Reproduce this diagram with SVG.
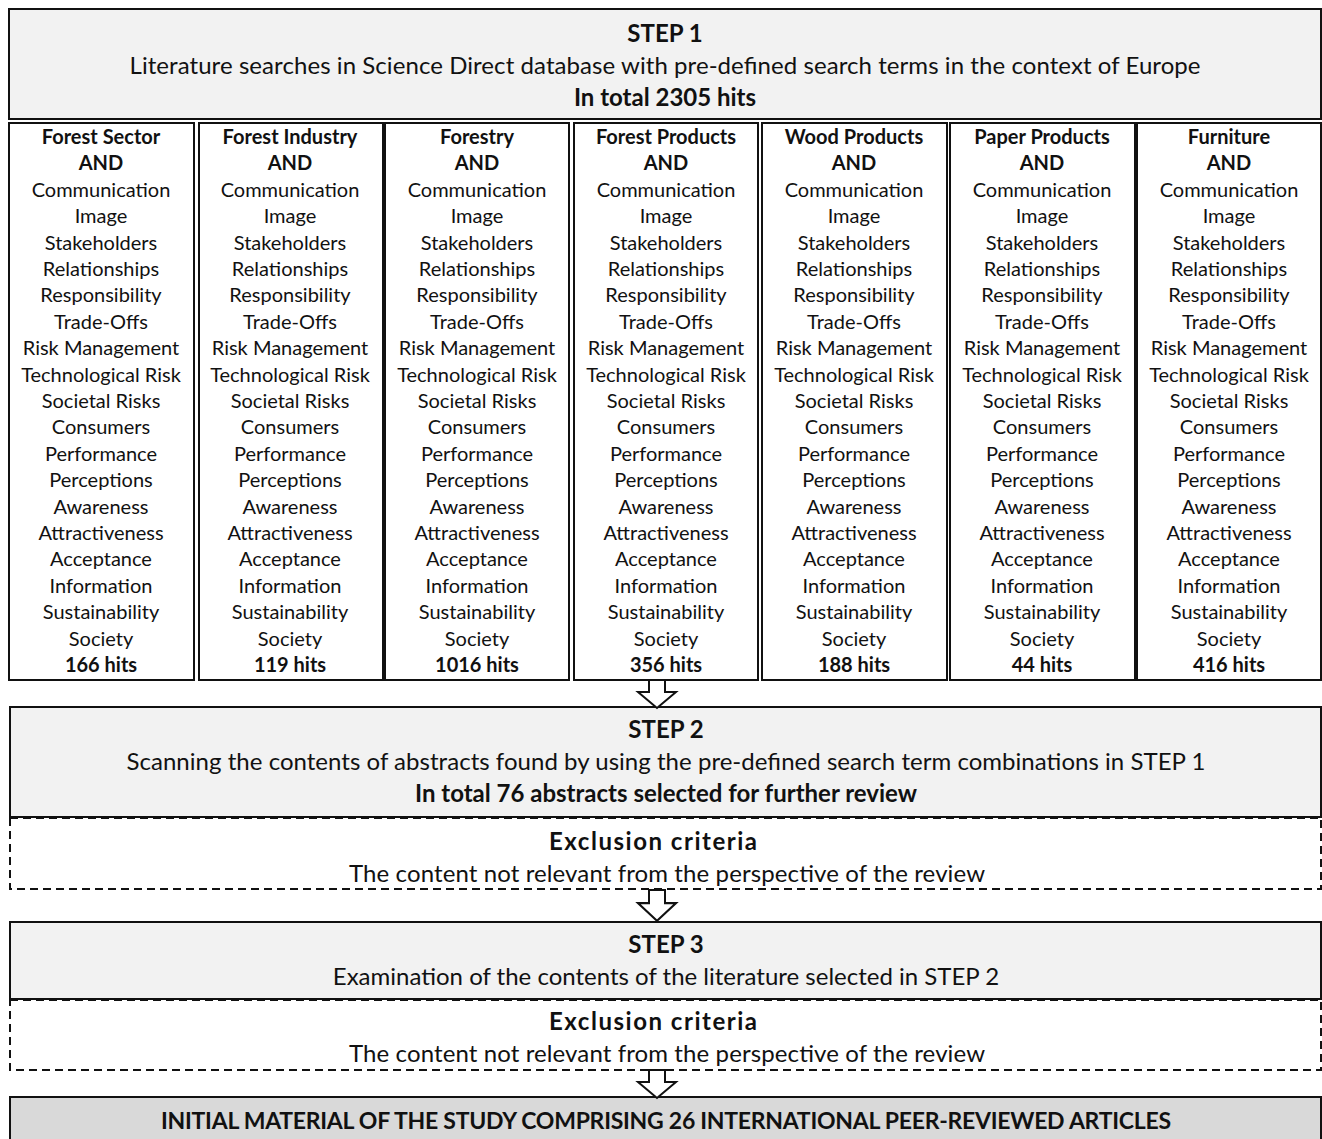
<svg xmlns="http://www.w3.org/2000/svg" width="1322" height="1139" viewBox="0 0 1322 1139">
<defs>
<style>
text{font-family:Lato,"Open Sans","Liberation Sans",sans-serif;fill:#111;text-anchor:middle}
.h{font-size:24px}
.b{font-weight:bold}
.c{font-size:20px}
.box{fill:#f2f2f2;stroke:#111;stroke-width:2}
.col{fill:#fff;stroke:#111;stroke-width:2}
.dash{fill:#fff;stroke:#111;stroke-width:2;stroke-dasharray:8 5}
.arr{fill:#fff;stroke:#111;stroke-width:2;stroke-linejoin:miter}
</style>
<path id="arrow" d="M-8,0 H8 V12 H19 L0,28 L-19,12 H-8 Z"/>
</defs>

<g id="step1">
<rect class="box" x="9" y="9" width="1312" height="110"/>
<text class="h b" x="665" y="42">STEP 1</text>
<text class="h" x="665" y="74" textLength="1071" lengthAdjust="spacing">Literature searches in Science Direct database with pre-defined search terms in the context of Europe</text>
<text class="h b" x="665" y="106">In total 2305 hits</text>
</g>

<g id="col1">
<rect class="col" x="9" y="123" width="185" height="557"/>
<text class="c" y="144"><tspan class="b" x="101">Forest Sector</tspan><tspan class="b" x="101" dy="26.4">AND</tspan><tspan x="101" dy="26.4">Communication</tspan><tspan x="101" dy="26.4">Image</tspan><tspan x="101" dy="26.4">Stakeholders</tspan><tspan x="101" dy="26.4">Relationships</tspan><tspan x="101" dy="26.4">Responsibility</tspan><tspan x="101" dy="26.4">Trade-Offs</tspan><tspan x="101" dy="26.4">Risk Management</tspan><tspan x="101" dy="26.4">Technological Risk</tspan><tspan x="101" dy="26.4">Societal Risks</tspan><tspan x="101" dy="26.4">Consumers</tspan><tspan x="101" dy="26.4">Performance</tspan><tspan x="101" dy="26.4">Perceptions</tspan><tspan x="101" dy="26.4">Awareness</tspan><tspan x="101" dy="26.4">Attractiveness</tspan><tspan x="101" dy="26.4">Acceptance</tspan><tspan x="101" dy="26.4">Information</tspan><tspan x="101" dy="26.4">Sustainability</tspan><tspan x="101" dy="26.4">Society</tspan><tspan class="b" x="101" dy="26.4">166 hits</tspan></text>
</g>

<g id="col2">
<rect class="col" x="199" y="123" width="184" height="557"/>
<text class="c" y="144"><tspan class="b" x="290">Forest Industry</tspan><tspan class="b" x="290" dy="26.4">AND</tspan><tspan x="290" dy="26.4">Communication</tspan><tspan x="290" dy="26.4">Image</tspan><tspan x="290" dy="26.4">Stakeholders</tspan><tspan x="290" dy="26.4">Relationships</tspan><tspan x="290" dy="26.4">Responsibility</tspan><tspan x="290" dy="26.4">Trade-Offs</tspan><tspan x="290" dy="26.4">Risk Management</tspan><tspan x="290" dy="26.4">Technological Risk</tspan><tspan x="290" dy="26.4">Societal Risks</tspan><tspan x="290" dy="26.4">Consumers</tspan><tspan x="290" dy="26.4">Performance</tspan><tspan x="290" dy="26.4">Perceptions</tspan><tspan x="290" dy="26.4">Awareness</tspan><tspan x="290" dy="26.4">Attractiveness</tspan><tspan x="290" dy="26.4">Acceptance</tspan><tspan x="290" dy="26.4">Information</tspan><tspan x="290" dy="26.4">Sustainability</tspan><tspan x="290" dy="26.4">Society</tspan><tspan class="b" x="290" dy="26.4">119 hits</tspan></text>
</g>

<g id="col3">
<rect class="col" x="385" y="123" width="184" height="557"/>
<text class="c" y="144"><tspan class="b" x="477">Forestry</tspan><tspan class="b" x="477" dy="26.4">AND</tspan><tspan x="477" dy="26.4">Communication</tspan><tspan x="477" dy="26.4">Image</tspan><tspan x="477" dy="26.4">Stakeholders</tspan><tspan x="477" dy="26.4">Relationships</tspan><tspan x="477" dy="26.4">Responsibility</tspan><tspan x="477" dy="26.4">Trade-Offs</tspan><tspan x="477" dy="26.4">Risk Management</tspan><tspan x="477" dy="26.4">Technological Risk</tspan><tspan x="477" dy="26.4">Societal Risks</tspan><tspan x="477" dy="26.4">Consumers</tspan><tspan x="477" dy="26.4">Performance</tspan><tspan x="477" dy="26.4">Perceptions</tspan><tspan x="477" dy="26.4">Awareness</tspan><tspan x="477" dy="26.4">Attractiveness</tspan><tspan x="477" dy="26.4">Acceptance</tspan><tspan x="477" dy="26.4">Information</tspan><tspan x="477" dy="26.4">Sustainability</tspan><tspan x="477" dy="26.4">Society</tspan><tspan class="b" x="477" dy="26.4">1016 hits</tspan></text>
</g>

<g id="col4">
<rect class="col" x="574" y="123" width="184" height="557"/>
<text class="c" y="144"><tspan class="b" x="666">Forest Products</tspan><tspan class="b" x="666" dy="26.4">AND</tspan><tspan x="666" dy="26.4">Communication</tspan><tspan x="666" dy="26.4">Image</tspan><tspan x="666" dy="26.4">Stakeholders</tspan><tspan x="666" dy="26.4">Relationships</tspan><tspan x="666" dy="26.4">Responsibility</tspan><tspan x="666" dy="26.4">Trade-Offs</tspan><tspan x="666" dy="26.4">Risk Management</tspan><tspan x="666" dy="26.4">Technological Risk</tspan><tspan x="666" dy="26.4">Societal Risks</tspan><tspan x="666" dy="26.4">Consumers</tspan><tspan x="666" dy="26.4">Performance</tspan><tspan x="666" dy="26.4">Perceptions</tspan><tspan x="666" dy="26.4">Awareness</tspan><tspan x="666" dy="26.4">Attractiveness</tspan><tspan x="666" dy="26.4">Acceptance</tspan><tspan x="666" dy="26.4">Information</tspan><tspan x="666" dy="26.4">Sustainability</tspan><tspan x="666" dy="26.4">Society</tspan><tspan class="b" x="666" dy="26.4">356 hits</tspan></text>
</g>

<g id="col5">
<rect class="col" x="762" y="123" width="185" height="557"/>
<text class="c" y="144"><tspan class="b" x="854">Wood Products</tspan><tspan class="b" x="854" dy="26.4">AND</tspan><tspan x="854" dy="26.4">Communication</tspan><tspan x="854" dy="26.4">Image</tspan><tspan x="854" dy="26.4">Stakeholders</tspan><tspan x="854" dy="26.4">Relationships</tspan><tspan x="854" dy="26.4">Responsibility</tspan><tspan x="854" dy="26.4">Trade-Offs</tspan><tspan x="854" dy="26.4">Risk Management</tspan><tspan x="854" dy="26.4">Technological Risk</tspan><tspan x="854" dy="26.4">Societal Risks</tspan><tspan x="854" dy="26.4">Consumers</tspan><tspan x="854" dy="26.4">Performance</tspan><tspan x="854" dy="26.4">Perceptions</tspan><tspan x="854" dy="26.4">Awareness</tspan><tspan x="854" dy="26.4">Attractiveness</tspan><tspan x="854" dy="26.4">Acceptance</tspan><tspan x="854" dy="26.4">Information</tspan><tspan x="854" dy="26.4">Sustainability</tspan><tspan x="854" dy="26.4">Society</tspan><tspan class="b" x="854" dy="26.4">188 hits</tspan></text>
</g>

<g id="col6">
<rect class="col" x="950" y="123" width="185" height="557"/>
<text class="c" y="144"><tspan class="b" x="1042">Paper Products</tspan><tspan class="b" x="1042" dy="26.4">AND</tspan><tspan x="1042" dy="26.4">Communication</tspan><tspan x="1042" dy="26.4">Image</tspan><tspan x="1042" dy="26.4">Stakeholders</tspan><tspan x="1042" dy="26.4">Relationships</tspan><tspan x="1042" dy="26.4">Responsibility</tspan><tspan x="1042" dy="26.4">Trade-Offs</tspan><tspan x="1042" dy="26.4">Risk Management</tspan><tspan x="1042" dy="26.4">Technological Risk</tspan><tspan x="1042" dy="26.4">Societal Risks</tspan><tspan x="1042" dy="26.4">Consumers</tspan><tspan x="1042" dy="26.4">Performance</tspan><tspan x="1042" dy="26.4">Perceptions</tspan><tspan x="1042" dy="26.4">Awareness</tspan><tspan x="1042" dy="26.4">Attractiveness</tspan><tspan x="1042" dy="26.4">Acceptance</tspan><tspan x="1042" dy="26.4">Information</tspan><tspan x="1042" dy="26.4">Sustainability</tspan><tspan x="1042" dy="26.4">Society</tspan><tspan class="b" x="1042" dy="26.4">44 hits</tspan></text>
</g>

<g id="col7">
<rect class="col" x="1137" y="123" width="184" height="557"/>
<text class="c" y="144"><tspan class="b" x="1229">Furniture</tspan><tspan class="b" x="1229" dy="26.4">AND</tspan><tspan x="1229" dy="26.4">Communication</tspan><tspan x="1229" dy="26.4">Image</tspan><tspan x="1229" dy="26.4">Stakeholders</tspan><tspan x="1229" dy="26.4">Relationships</tspan><tspan x="1229" dy="26.4">Responsibility</tspan><tspan x="1229" dy="26.4">Trade-Offs</tspan><tspan x="1229" dy="26.4">Risk Management</tspan><tspan x="1229" dy="26.4">Technological Risk</tspan><tspan x="1229" dy="26.4">Societal Risks</tspan><tspan x="1229" dy="26.4">Consumers</tspan><tspan x="1229" dy="26.4">Performance</tspan><tspan x="1229" dy="26.4">Perceptions</tspan><tspan x="1229" dy="26.4">Awareness</tspan><tspan x="1229" dy="26.4">Attractiveness</tspan><tspan x="1229" dy="26.4">Acceptance</tspan><tspan x="1229" dy="26.4">Information</tspan><tspan x="1229" dy="26.4">Sustainability</tspan><tspan x="1229" dy="26.4">Society</tspan><tspan class="b" x="1229" dy="26.4">416 hits</tspan></text>
</g>

<g id="step2">
<rect class="box" x="10" y="707" width="1311" height="110"/>
<text class="h b" x="666" y="738">STEP 2</text>
<text class="h" x="666" y="770" textLength="1079" lengthAdjust="spacing">Scanning the contents of abstracts found by using the pre-defined search term combinations in STEP 1</text>
<text class="h b" x="666" y="802">In total 76 abstracts selected for further review</text>
</g>

<g id="exclusion1">
<rect class="dash" x="10" y="818" width="1311" height="71"/>
<text class="h b" x="653" y="850" textLength="208" lengthAdjust="spacing">Exclusion criteria</text>
<text class="h" x="667" y="882" textLength="636" lengthAdjust="spacing">The content not relevant from the perspective of the review</text>
</g>

<g id="step3">
<rect class="box" x="10" y="922" width="1311" height="77"/>
<text class="h b" x="666" y="953">STEP 3</text>
<text class="h" x="666" y="985">Examination of the contents of the literature selected in STEP 2</text>
</g>

<g id="exclusion2">
<rect class="dash" x="10" y="1000" width="1311" height="70"/>
<text class="h b" x="653" y="1030" textLength="208" lengthAdjust="spacing">Exclusion criteria</text>
<text class="h" x="667" y="1062" textLength="636" lengthAdjust="spacing">The content not relevant from the perspective of the review</text>
</g>

<g id="result">
<rect x="10" y="1097" width="1311" height="50" fill="#d9d9d9" stroke="#111" stroke-width="2"/>
<text class="b" x="666" y="1129" font-size="23" textLength="1010" lengthAdjust="spacing">INITIAL MATERIAL OF THE STUDY COMPRISING 26 INTERNATIONAL PEER-REVIEWED ARTICLES</text>
</g>

<g id="connectors">
<use href="#arrow" class="arr" transform="translate(657,680)"/>
<use href="#arrow" class="arr" transform="translate(657,890) scale(1,1.1)"/>
<use href="#arrow" class="arr" transform="translate(657,1070)"/>
</g>
</svg>
